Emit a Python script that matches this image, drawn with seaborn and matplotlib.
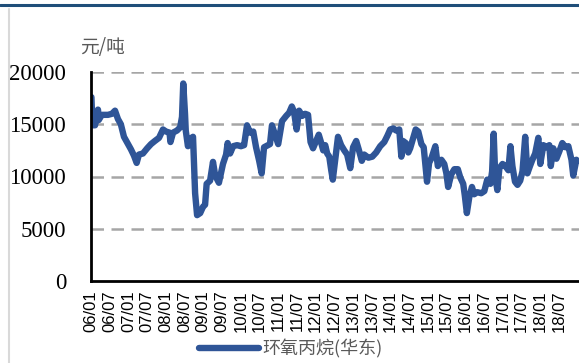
import matplotlib
matplotlib.use("Agg")
import matplotlib.pyplot as plt
from matplotlib.lines import Line2D
import seaborn as sns
import pandas as pd
import numpy as np

# Epoxy propane price, East China (yuan/ton)
dates = [
    "2006-01-05", "2006-01-15", "2006-02-10", "2006-03-08", "2006-03-15", "2006-04-15",
    "2006-06-14", "2006-07-22", "2006-08-22", "2006-09-20", "2006-10-18", "2006-11-18",
    "2006-12-16", "2007-01-25", "2007-02-24", "2007-03-20", "2007-04-12", "2007-05-20",
    "2007-07-01", "2007-08-08", "2007-09-15", "2007-10-25", "2007-12-03", "2008-01-03",
    "2008-02-06", "2008-02-15", "2008-03-10", "2008-04-18", "2008-05-18", "2008-06-06",
    "2008-06-18", "2008-07-05", "2008-07-12", "2008-08-03", "2008-08-25", "2008-09-22",
    "2008-10-12", "2008-11-01", "2008-12-01", "2008-12-28", "2009-01-18", "2009-02-03",
    "2009-03-06", "2009-04-04", "2009-04-25", "2009-06-01", "2009-07-10", "2009-08-10",
    "2009-08-25", "2009-09-18", "2009-10-18", "2009-11-25", "2010-01-03", "2010-02-03",
    "2010-03-01", "2010-04-01", "2010-05-01", "2010-05-28", "2010-06-28", "2010-07-22",
    "2010-08-15", "2010-09-24", "2010-10-12", "2010-11-01", "2010-12-01", "2011-01-01",
    "2011-02-08", "2011-03-18", "2011-04-16", "2011-05-12", "2011-06-03", "2011-06-28",
    "2011-07-22", "2011-08-22", "2011-09-20", "2011-10-18", "2011-11-12", "2011-12-06",
    "2012-01-06", "2012-02-01", "2012-02-25", "2012-03-14", "2012-04-03", "2012-04-22",
    "2012-05-12", "2012-06-01", "2012-06-16", "2012-07-08", "2012-08-06", "2012-09-06",
    "2012-10-06", "2012-11-04", "2012-12-04", "2013-01-01", "2013-02-01", "2013-02-25",
    "2013-03-25", "2013-04-18", "2013-05-28", "2013-07-06", "2013-08-13", "2013-09-22",
    "2013-11-01", "2013-12-01", "2013-12-28", "2014-01-28", "2014-02-25", "2014-03-25",
    "2014-04-15", "2014-05-01", "2014-05-28", "2014-06-22", "2014-07-10", "2014-08-10",
    "2014-09-03", "2014-09-28", "2014-10-28", "2014-11-20", "2014-12-22", "2015-01-12",
    "2015-02-06", "2015-03-12", "2015-04-06", "2015-05-10", "2015-06-08", "2015-06-28",
    "2015-07-15", "2015-08-15", "2015-09-15", "2015-10-18", "2015-11-12", "2015-12-10",
    "2015-12-25", "2016-01-15", "2016-02-08", "2016-03-04", "2016-03-25", "2016-04-25",
    "2016-06-03", "2016-07-03", "2016-08-01", "2016-09-01", "2016-09-18", "2016-10-03",
    "2016-10-18", "2016-11-08", "2016-11-28", "2016-12-28", "2017-01-25", "2017-02-24",
    "2017-03-14", "2017-04-03", "2017-04-28", "2017-05-22", "2017-06-18", "2017-07-10",
    "2017-08-06", "2017-08-27", "2017-09-22", "2017-10-15", "2017-11-12", "2017-12-12",
    "2018-01-01", "2018-02-01", "2018-03-01", "2018-03-28", "2018-04-12", "2018-05-06",
    "2018-06-06", "2018-07-04", "2018-08-03", "2018-09-03", "2018-10-01", "2018-11-01",
    "2018-11-18", "2018-12-18", "2018-12-25",
]
prices = [
    17600, 14900, 14900, 16400, 15400, 15900,
    15900, 16000, 16300, 15500, 15000, 13800,
    13300, 12600, 12000, 11300, 12100, 12200,
    12700, 13100, 13400, 13700, 14500, 14300,
    14200, 13300, 14200, 14400, 14700, 15700,
    18900, 16000, 14400, 12900, 13600, 13800,
    8400, 6300, 6500, 7100, 7300, 9300,
    9600, 11400, 10100, 9400, 11200, 12100,
    13200, 12200, 12900, 13000, 12900, 13000,
    14900, 14200, 14300, 12800, 11500, 10300,
    12800, 13000, 13100, 14900, 14000, 13100,
    15300, 15800, 16100, 16700, 16200, 14500,
    16300, 15800, 16000, 15900, 13300, 12700,
    13400, 14000, 13200, 12500, 13000, 12200,
    11900, 10600, 9700, 11500, 13800, 13000,
    12500, 12100, 10800, 12800, 13400, 12600,
    11500, 12100, 11800, 11900, 12300, 12900,
    13300, 13900, 14500, 14600, 14400, 14500,
    11900, 13400, 13200, 12300, 12700, 13700,
    14500, 14300, 13100, 12800, 9500, 11300,
    11800, 12900, 11000, 11600, 11200, 10300,
    9000, 10200, 10700, 10700, 9900, 9300,
    8200, 6500, 8000, 9000, 8300, 8500,
    8400, 8600, 9700, 9300, 10500, 14100,
    10000, 8700, 10800, 11200, 11000, 10600,
    12900, 11000, 9500, 9200, 9600, 10500,
    13800, 10300, 11000, 11600, 12200, 13700,
    11200, 13000, 12800, 13000, 11000, 12700,
    11700, 12400, 13200, 12800, 12900, 11600,
    10100, 11600, 11500,
]
series_name = "环氧丙烷(华东)"
y_unit = "元/吨"
y_ticks = [0, 5000, 10000, 15000, 20000]
tick_labels = [f"{y % 100:02d}/{m:02d}" for y in range(2006, 2019) for m in (1, 7)]

# Month offset from Jan 2006, used as the horizontal coordinate
d = pd.to_datetime(pd.Series(dates))
months = (d.dt.year - 2006) * 12 + (d.dt.month - 1) + (d.dt.day - 1) / 30.0
df = pd.DataFrame({"month": months, "price": prices, "series": series_name})

sns.set_style("white")
plt.rcParams["font.family"] = ["Noto Sans CJK SC", "DejaVu Sans"]

line_color = "#2F5597"
line_width = 4.6
fig = plt.figure(figsize=(5.79, 3.63), dpi=100)
ax = fig.add_axes([91 / 579, 1 - 281 / 363, 1 - 91 / 579, (281 - 72) / 363])

sns.lineplot(data=df, x="month", y="price", hue="series", palette=[line_color],
             linewidth=line_width, ax=ax, legend=False, solid_capstyle="round",
             solid_joinstyle="round")

ax.set_xlim(0, (579 - 91) / (18.72 / 6))
ax.set_ylim(0, 20000)
ax.set_yticks(y_ticks)
ax.set_yticklabels([str(v) for v in y_ticks], fontfamily="Liberation Serif",
                   fontsize=16.5, color="#000000")
ax.tick_params(axis="y", length=0, pad=18)

ax.set_xticks(np.arange(len(tick_labels)) * 6)
ax.set_xticklabels(tick_labels, rotation=90, fontfamily="Liberation Sans",
                   fontsize=12, color="#000000")
ax.tick_params(axis="x", direction="out", length=5, width=1.8, color="#000000", pad=2)

for v in y_ticks[1:]:
    ax.axhline(v, color="#A6A6A6", linewidth=1.8, dashes=(5, 3), zorder=0)

for side in ("top", "right"):
    ax.spines[side].set_visible(False)
for side in ("left", "bottom"):
    ax.spines[side].set_color("#000000")
    ax.spines[side].set_linewidth(2)
ax.set_xlabel("")
ax.set_ylabel("")

fig.text(80 / 579, 1 - 47 / 363, y_unit, fontsize=13.5, color="#595959",
         ha="left", va="center")

handle = Line2D([], [], color=line_color, linewidth=line_width, solid_capstyle="round")
fig.legend([handle], [series_name], loc="center", frameon=False,
           bbox_to_anchor=(291 / 579, 1 - 349 / 363), fontsize=13,
           handlelength=3.3, handletextpad=0.2, labelcolor="#595959")

# page decoration: top rule and left margin line
fig.add_artist(Line2D([0, 1], [1 - 5 / 363, 1 - 5 / 363], color="#1F4E79", linewidth=2.2))
fig.add_artist(Line2D([9 / 579, 9 / 579], [0, 1 - 9 / 363], color="#D9D9D9", linewidth=1.5))

fig.savefig("out.png", dpi=100)
